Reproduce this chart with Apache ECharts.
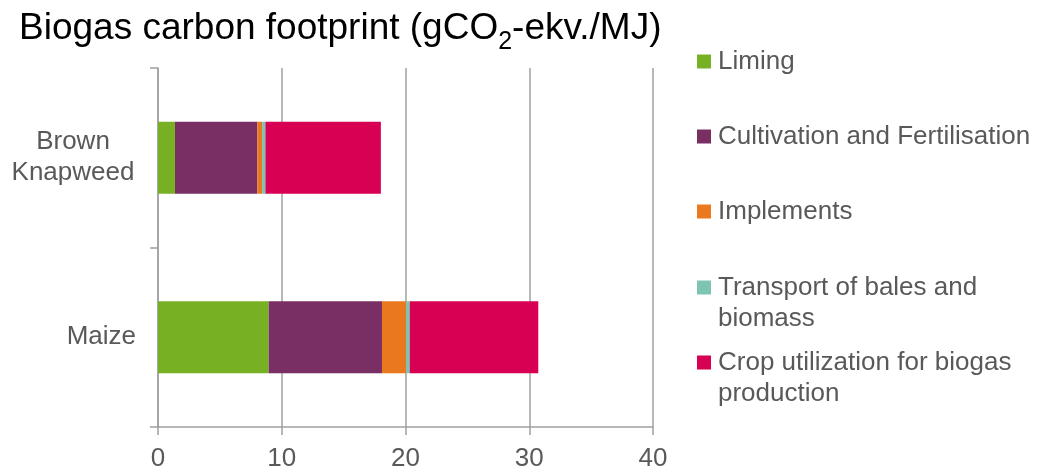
<!DOCTYPE html>
<html>
<head>
<meta charset="utf-8">
<script src="https://cdn.jsdelivr.net/npm/echarts@6/dist/echarts.min.js"></script>
<style>
  html, body { margin: 0; padding: 0; background: #fff; }
  #main { width: 1045px; height: 470px; }
</style>
</head>
<body>
<div id="main"></div>
<script>
// data
var categories = ['Brown Knapweed', 'Maize'];
var seriesNames = ['Liming', 'Cultivation and Fertilisation', 'Implements', 'Transport of bales and biomass', 'Crop utilization for biogas production'];
var liming = [1.37, 8.94];
var cultivation = [6.66, 9.16];
var implementsVals = [0.38, 1.94];
var transport = [0.27, 0.30];
var cropUse = [9.33, 10.39];
var xTicks = [0, 10, 20, 30, 40];

var colors = ['#78B023', '#7A2F64', '#EA781F', '#7EC4B3', '#D80052'];
var allData = [liming, cultivation, implementsVals, transport, cropUse];

var chart = echarts.init(document.getElementById('main'));
var font = '"Liberation Sans", Arial, sans-serif';
var gray = '#595959';
var lineGray = '#a0a0a0';

// legend: one component per item so spacing matches the picture
var legendCenters = [61, 136, 211, 287, 362];
var legendFirstLine = ['Liming', 'Cultivation and Fertilisation', 'Implements', 'Transport of bales and', 'Crop utilization for biogas'];
var legends = seriesNames.map(function (name, i) {
  return {
    data: [name],
    left: 697,
    top: legendCenters[i] - 15,
    padding: 0,
    icon: 'rect',
    itemWidth: 14,
    itemHeight: 14,
    selectedMode: false,
    formatter: function () { return legendFirstLine[i]; },
    textStyle: { fontFamily: font, fontSize: 26, color: gray, lineHeight: 31, padding: [0, 0, 0, 2] }
  };
});

var series = seriesNames.map(function (name, i) {
  return {
    name: name,
    type: 'bar',
    stack: 'total',
    barWidth: 72,
    itemStyle: { color: colors[i] },
    data: allData[i]
  };
});

chart.setOption({
  animation: false,
  title: {
    text: '{a|Biogas carbon footprint (gCO}{s|2}{a|-ekv./MJ)}',
    left: 19,
    top: 5,
    padding: 0,
    textStyle: {
      fontWeight: 'normal',
      rich: {
        a: { fontFamily: font, fontSize: 37, fontWeight: 'normal', color: '#000', verticalAlign: 'bottom', lineHeight: 42 },
        s: { fontFamily: font, fontSize: 25, fontWeight: 'normal', color: '#000', verticalAlign: 'bottom', lineHeight: 42, padding: [0, 0, -8, 0] }
      }
    }
  },
  legend: legends,
  graphic: [
    { type: 'text', left: 718, top: 318 - 15, style: { text: 'biomass', font: '26px ' + font, fill: gray, lineHeight: 31 } },
    { type: 'text', left: 718, top: 393 - 15, style: { text: 'production', font: '26px ' + font, fill: gray, lineHeight: 31 } }
  ],
  grid: { left: 158, right: 392, top: 68, bottom: 43, outerBoundsMode: 'none' },
  xAxis: {
    type: 'value',
    min: xTicks[0],
    max: xTicks[xTicks.length - 1],
    interval: 10,
    axisLine: { show: true, lineStyle: { color: lineGray, width: 1.5 } },
    axisTick: { show: true, length: 8, lineStyle: { color: lineGray, width: 1.5 } },
    splitLine: { show: true, lineStyle: { color: lineGray, width: 1.5 } },
    axisLabel: { fontFamily: font, fontSize: 26, color: gray, margin: 19 }
  },
  yAxis: {
    type: 'category',
    data: categories,
    inverse: true,
    axisLine: { show: true, lineStyle: { color: lineGray, width: 1.5 } },
    axisTick: { show: true, length: 8, lineStyle: { color: lineGray, width: 1.5 } },
    axisLabel: {
      margin: 22,
      formatter: function (v) {
        if (v === 'Brown Knapweed') return '{c|Brown}\n{c|Knapweed}';
        return '{p|' + v + '}';
      },
      rich: {
        c: { fontFamily: font, fontSize: 26, color: gray, lineHeight: 31, width: 126, align: 'center' },
        p: { fontFamily: font, fontSize: 26, color: gray, lineHeight: 31 }
      }
    }
  },
  series: series
});
</script>
</body>
</html>
